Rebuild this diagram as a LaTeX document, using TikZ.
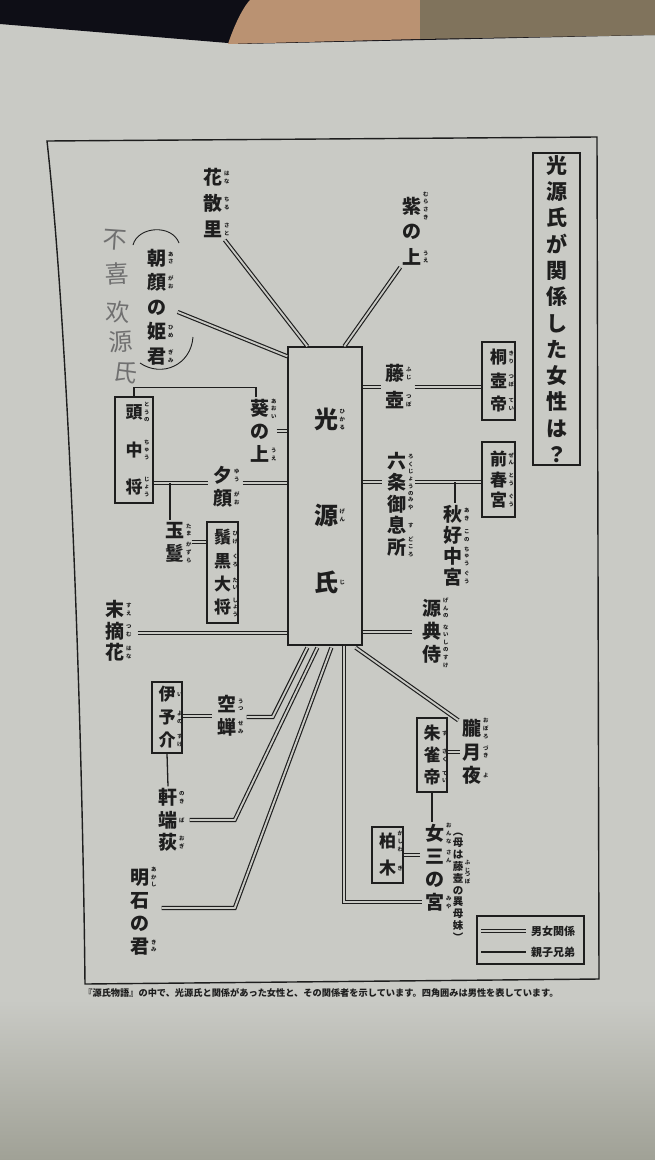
\documentclass[tikz,border=0pt]{standalone}
\usepackage{fontspec}
\newfontfamily\jp{Noto Sans CJK JP}
\newfontfamily\hwfont{Noto Sans CJK SC}
\usetikzlibrary{calc}
\definecolor{pagecol}{RGB}{201,202,197}
\definecolor{pagedark}{RGB}{160,161,150}
\definecolor{ink}{RGB}{30,30,30}
\definecolor{topdark}{RGB}{14,14,22}
\definecolor{skin}{RGB}{186,146,114}
\definecolor{brownish}{RGB}{128,115,92}
\definecolor{hwgray}{RGB}{112,112,112}
\newsavebox\rbox
\newcommand\rtfont{\jp\bfseries\fontsize{5.4}{5.4}\selectfont}
\newcommand\kr[2]{\makebox[1em]{#1}\sbox\rbox{\rtfont\shortstack{#2}}\makebox[0pt][l]{\kern1.6pt\raisebox{\dimexpr0.38em-0.5\ht\rbox+0.5\dp\rbox\relax}[0pt][0pt]{\usebox\rbox}}}
\newcommand\kn[1]{\makebox[1em]{#1}}
\tikzset{
  mf/.style={draw=ink, double=pagecol, double distance=1.9pt, line width=1.15pt},
  pc/.style={draw=ink, line width=1.3pt},
  lab/.style={font=\jp\bfseries\fontsize{19}{#1}\selectfont, align=center, inner sep=2pt, text=ink},
  lab/.default=24,
  mbox/.style={draw=ink, line width=1.2pt, inner sep=0pt, align=center, text=ink, font=\jp\bfseries\fontsize{17}{#1}\selectfont},
  mbox/.default=23,
  hw/.style={font=\hwfont\fontsize{24}{24}\selectfont, text=hwgray, inner sep=0pt},
}
\begin{document}
\begin{tikzpicture}[x=1pt,y=-1pt]
\useasboundingbox (0,0) rectangle (655,1160);
% photo background
\fill[pagecol] (0,0) rectangle (655,1160);
\shade[top color=pagecol, bottom color=pagedark] (0,1000) rectangle (655,1160);
\fill[topdark] (0,0) -- (655,0) -- (655,35) -- (240,44) -- (0,24) -- cycle;
\fill[skin] (228,44) .. controls (236,20) and (245,5) .. (250,0) -- (420,0) -- (420,39) -- cycle;
\fill[brownish] (420,0) -- (655,0) -- (655,35) -- (420,39) -- cycle;
% frame
\draw[ink, line width=1.4pt] (47,141) -- (597,137) -- (599,979) -- (85,984) .. controls (82,700) and (68,330) .. (47,141) -- cycle;
% title
\node[draw=ink, line width=1.3pt, minimum width=47pt, minimum height=312pt, inner sep=0pt, align=center, text=ink, font=\jp\bfseries\fontsize{21}{26.3}\selectfont] (title) at (556.5,309) {光\\源\\氏\\が\\関\\係\\し\\た\\女\\性\\は\\？};
% Genji
\node[draw=ink, line width=1.3pt, minimum width=74pt, minimum height=298pt] (genji) at (325,496) {};
\node[font=\jp\bfseries\fontsize{24}{67}\selectfont, align=center, text=ink, inner sep=0pt] (gname) at (326,501) {\kr{光}{ひ\\か\\る}\\[29pt]\kr{源}{げ\\ん}\\\kr{氏}{じ}};
% women and relatives
\node[lab=26] (hana) at (213,203) {\kr{花}{は\\な}\\\kr{散}{ち\\る}\\\kr{里}{さ\\と}};
\node[lab=25.5] (murasaki) at (412,231) {\kr{紫}{む\\ら\\さ\\き}\\\kn{の}\\\kr{上}{う\\え}};
\node[lab=24.5] (asagao) at (157,307) {\kr{朝}{あ\\さ}\\\kr{顔}{が\\お}\\\kn{の}\\\kr{姫}{ひ\\め}\\\kr{君}{ぎ\\み}};
\node[lab=27] (fujitsubo) at (395,387) {\kr{藤}{ふ\\じ}\\\kr{壺}{つ\\ぼ}};
\node[mbox=23.5, minimum width=33pt, minimum height=78pt] (kiritsubo) at (498.5,381) {\kr{桐}{き\\り}\\\kr{壺}{つ\\ぼ}\\\kr{帝}{て\\い}};
\node[lab=23] (aoi) at (260,431) {\kr{葵}{あ\\お\\い}\\\kn{の}\\\kr{上}{う\\え}};
\node[mbox=37.5, minimum width=38pt, minimum height=106pt] (tonochujo) at (134,450) {\kr{頭}{と\\う\\の}\\\kr{中}{ち\\ゅ\\う}\\\kr{将}{じ\\ょ\\う}};
\node[lab=23] (yugao) at (223,487) {\kr{夕}{ゆ\\う}\\\kr{顔}{が\\お}};
\node[lab=23] (tamakazura) at (175,542) {\kr{玉}{た\\ま}\\\kr{鬘}{か\\ず\\ら}};
\node[mbox=23.3, minimum width=31pt, minimum height=101pt] (higekuro) at (222.5,572.5) {\kr{鬚}{ひ\\げ}\\\kr{黒}{く\\ろ}\\\kr{大}{た\\い}\\\kr{将}{し\\ょ\\う}};
\node[lab=21.5] (suetsumuhana) at (115,631) {\kr{末}{す\\え}\\\kr{摘}{つ\\む}\\\kr{花}{は\\な}};
\node[lab=21.5] (rokujo) at (397,504) {\kr{六}{ろ\\く}\\\kr{条}{じ\\ょ\\う\\の}\\\kr{御}{み\\や}\\\kr{息}{す}\\\kr{所}{ど\\こ\\ろ}};
\node[mbox=20.5, minimum width=33pt, minimum height=75pt] (zenbogu) at (498.5,479.5) {\kr{前}{ぜ\\ん}\\\kr{春}{と\\う}\\\kr{宮}{ぐ\\う}};
\node[lab=21] (akikonomu) at (453,546) {\kr{秋}{あ\\き}\\\kr{好}{こ\\の}\\\kr{中}{ち\\ゅ\\う}\\\kr{宮}{ぐ\\う}};
\node[lab=23] (gennaishi) at (432,631) {\kr{源}{げ\\ん\\の}\\\kr{典}{な\\い}\\\kr{侍}{し\\の\\す\\け}};
\node[lab=23.5] (oborozukiyo) at (472,752) {\kr{朧}{お\\ぼ\\ろ}\\\kr{月}{づ\\き}\\\kr{夜}{よ}};
\node[mbox=22, minimum width=30pt, minimum height=74pt] (suzaku) at (432,755) {\kr{朱}{す}\\\kr{雀}{ざ\\く}\\\kr{帝}{て\\い}};
\node[lab=23] (onna3) at (435,868) {\kr{女}{お\\ん\\な}\\\kr{三}{さ\\ん}\\\kn{の}\\\kr{宮}{み\\や}};
\node[font=\jp\bfseries\fontsize{10.5}{11.8}\selectfont, align=center, inner sep=1pt, text=ink] (note) at (458,887) {︵\\母\\は\\\kr{藤}{ふ\\じ}\\\kr{壺}{つ\\ぼ}\\の\\異\\母\\妹\\︶};
\node[mbox=27, minimum width=31pt, minimum height=56pt] (kashiwagi) at (387.5,855) {\kr{柏}{か\\し\\わ}\\\kr{木}{ぎ}};
\node[lab=23] (utsusemi) at (227,716) {\kr{空}{う\\つ}\\\kr{蝉}{せ\\み}};
\node[mbox=23, minimum width=30pt, minimum height=71pt] (iyonosuke) at (167,717.5) {\kr{伊}{い}\\\kr{予}{よ\\の}\\\kr{介}{す\\け}};
\node[lab=22.5] (nokibaogi) at (168,820) {\kr{軒}{の\\き}\\\kr{端}{ば}\\\kr{荻}{お\\ぎ}};
\node[lab=23] (akashi) at (140,912) {\kr{明}{あ\\か\\し}\\\kn{石}\\\kn{の}\\\kr{君}{き\\み}};
% parentheses around asagao
\draw[ink, line width=0.9pt] (133,245) .. controls (138,226) and (172,224) .. (179,243);
\draw[ink, line width=0.9pt] (140,363) .. controls (162,378) and (191,365) .. (193,337);
% handwriting
\node[hw, rotate=-4] (hw1) at (115,240) {不};
\node[hw, rotate=3] (hw2) at (117,274) {喜};
\node[hw, rotate=-3] (hw3) at (118,312) {欢};
\node[hw, rotate=4] (hw4) at (121,342) {源};
\node[hw, rotate=-8] (hw5) at (126,372) {氏};
% connectors: upper
\draw[mf] (hana.south east) -- ($(genji.north west)+(20,0)$);
\draw[mf] (murasaki.south west) -- ($(genji.north west)+(57,0)$);
\draw[mf] ($(asagao.east)+(9,5)$) -- ($(genji.north west)+(0,10)$);
\draw[mf] (genji.east |- fujitsubo.center) -- ($(fujitsubo.west)+(-2,0)$);
\draw[mf] ($(fujitsubo.east)+(8,0)$) -- (kiritsubo.west |- fujitsubo.center);
% left side
\draw[mf] ($(aoi.east)+(5,0)$) -- (genji.west |- aoi.center);
\draw[pc] ($(aoi.north)+(-4,0)$) -- ++(0,-10) -| (tonochujo.north);
\coordinate (yl) at ($(yugao.west)+(-3,-4)$);
\draw[mf] (tonochujo.east |- yl) -- (yl);
\draw[mf] ($(yugao.east)+(8,-4)$) -- (genji.west |- yl);
\coordinate (tk) at ($(tamakazura.north)+(-5,0)$);
\draw[pc] (tk) -- (tk |- yl);
\draw[mf] ($(tamakazura.east)+(5,0)$) -- (higekuro.west |- tamakazura.center);
\coordinate (st) at ($(suetsumuhana.east)+(11,2)$);
\draw[mf] (st) -- (genji.west |- st);
% right side
\coordinate (rl) at ($(rokujo.west)+(-3,-22)$);
\draw[mf] (genji.east |- rl) -- (rl);
\draw[mf] ($(rokujo.east)+(6,-22)$) -- (zenbogu.west |- rl);
\coordinate (ak) at ($(akikonomu.north)+(2,0)$);
\draw[pc] (ak |- rl) -- (ak);
\coordinate (gn) at ($(gennaishi.west)+(-8,1)$);
\draw[mf] (genji.east |- gn) -- (gn);
% lower right
\draw[mf] ($(genji.south east)+(-7,2)$) -- ($(oborozukiyo.north west)+(-2,3)$);
\draw[mf] (suzaku.east |- oborozukiyo.center) -- (oborozukiyo.west);
\draw[pc] (suzaku.south) -- (suzaku.south |- onna3.north);
\draw[mf] (kashiwagi.east) -- ($(onna3.west |- kashiwagi.center)+(-3,0)$);
\coordinate (o3) at ($(onna3.west)+(-1,34)$);
\draw[mf] ($(genji.south west)+(57,0)$) |- (o3);
% lower left
\draw[mf] ($(utsusemi.east)+(8,1)$) -- ++(26,0) -- ($(genji.south west)+(20,2)$);
\draw[mf] (iyonosuke.east |- utsusemi.center) -- ($(utsusemi.west)+(-3,0)$);
\draw[pc] (iyonosuke.south) -- (nokibaogi.north);
\draw[mf] ($(nokibaogi.east)+(10,0)$) -- ++(45,0) -- ($(genji.south west)+(30,2)$);
\draw[mf] ($(akashi.east)+(10,-4)$) -- ++(73,0) -- ($(genji.south west)+(44,2)$);
% legend
\node[draw=ink, line width=1.2pt, minimum width=107pt, minimum height=48pt] (legend) at (530.5,940) {};
\node[font=\jp\bfseries\fontsize{11}{11}\selectfont, text=ink, inner sep=1pt] (lg1) at (553,931) {男女関係};
\node[font=\jp\bfseries\fontsize{11}{11}\selectfont, text=ink, inner sep=1pt] (lg2) at (553,952) {親子兄弟};
\draw[mf] ($(legend.west)+(5,-9)$) -- ($(lg1.west)+(-4,0)$);
\draw[pc] ($(legend.west)+(5,12)$) -- ($(lg2.west)+(-4,0)$);
% caption
\node[font=\jp\bfseries\fontsize{9.2}{9.2}\selectfont, text=ink, inner sep=0pt] (caption) at (321,993) {『源氏物語』の中で、光源氏と関係があった女性と、その関係者を示しています。四角囲みは男性を表しています。};
\end{tikzpicture}
\end{document}
